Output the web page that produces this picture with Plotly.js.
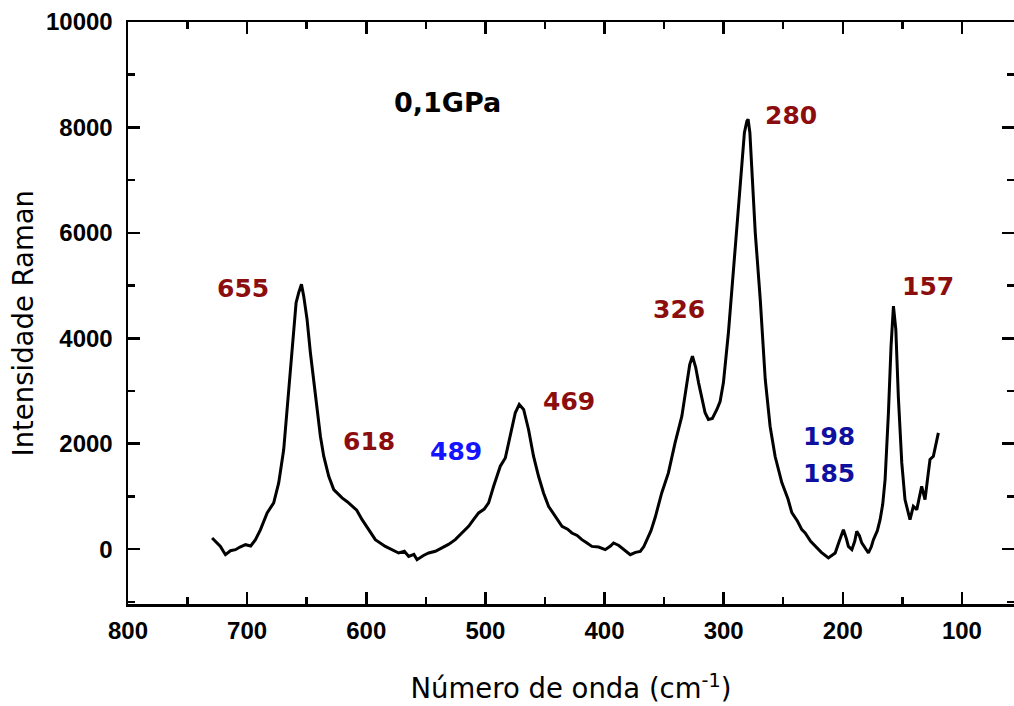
<!DOCTYPE html>
<html>
<head>
<meta charset="utf-8">
<script src="https://cdn.plot.ly/plotly-3.0.1.min.js"></script>
<style>html,body{margin:0;padding:0;background:#fff;}#chart{width:1014px;height:706px;}</style>
</head>
<body>
<div id="chart"></div>
<script>
// Raman spectrum at 0,1 GPa
const wavenumber = [
 729.4, 726, 722.4, 720, 718.2, 714, 709.8, 706, 701.4, 697, 693, 688.8, 683.2, 677.7, 673.5,
 669.3, 666.5, 663.7, 660.9, 658.9, 656.7, 654.4, 652.5, 649.7, 646.9, 642.7, 638.5, 635.7,
 631.5, 627.3, 620.3, 616, 612, 608, 603.5, 598, 592.4, 584, 578, 572.8, 568, 564.4, 560,
 557.4, 552, 547.6, 542, 536.4, 531, 525.3, 520, 514.1, 510, 505.7, 501, 497.3, 493.1, 487.5,
 483.3, 479.1, 474.9, 471.6, 467.9, 463.8, 459.6, 455.4, 451.2, 447, 441.4, 435.7, 431, 427.4,
 423, 419, 415, 410.6, 405, 399.4, 395, 392.4, 388, 385.4, 382, 378.4, 374, 370, 367, 364.4,
 361, 357.5, 352, 346.4, 340.8, 335.1, 330.9, 328.5, 326.2, 323.5, 321, 318.3, 315.6, 312.8,
 309.5, 305.7, 303, 300.2, 296, 290.4, 286.2, 282.6, 280.5, 279.5, 278, 276.3, 273.5, 269.3,
 265.1, 261, 256.8, 251.2, 246, 242.8, 238, 234.4, 231.6, 227, 223.2, 218, 212.1, 209, 206.4,
 203, 199.5, 197, 195.3, 192.4, 190, 188.3, 186, 184.1, 181, 178.5, 176, 174.3, 171, 168.7,
 166.5, 164.5, 161.7, 159.5, 157.5, 155.5, 153.4, 150.5, 147.8, 145, 143.6, 140.8, 137.9,
 133.8, 131, 128.5, 126.8, 124, 121.5, 119.8
];
const intensity = [
 213, 130, 53, -40, -104, -30, -10, 40, 85, 60, 180, 370, 688, 877, 1257,
 1890, 2650, 3410, 4042, 4676, 4866, 5024, 4800, 4359, 3726, 2902, 2143, 1763,
 1383, 1130, 972, 900, 813, 740, 560, 370, 180, 53, -20, -72, -40, -137, -100,
 -199, -120, -72, -40, 23, 90, 180, 300, 433, 560, 688, 760, 877, 1193, 1573,
 1730, 2143, 2587, 2745, 2650, 2270, 1763, 1383, 1067, 813, 623, 433, 380, 307,
 260, 180, 120, 53, 40, -9, 60, 118, 70, 23, -30, -104, -60, -42, 50, 180,
 350, 600, 1067, 1446, 2016, 2523, 3160, 3500, 3662, 3450, 3150, 2840, 2587, 2460,
 2480, 2650, 2800, 3160, 4110, 5689, 6952, 7900, 8120, 8157, 7900, 7243, 6008, 4740,
 3219, 2327, 1757, 1263, 950, 693, 530, 370, 307, 150, 53, -60, -167, -120, -72,
 150, 370, 200, 53, -9, 150, 338, 250, 118, 20, -72, 50, 180, 350, 560,
 850, 1320, 2587, 3852, 4612, 4169, 2902, 1637, 940, 700, 560, 813, 750,
 1193, 940, 1400, 1700, 1763, 2000, 2207
];

// Axis ticks
const xTickVals = [800, 700, 600, 500, 400, 300, 200, 100];
const yTickVals = [0, 2000, 4000, 6000, 8000, 10000];
const yTickText = ["0", "2000", "4000", "6000", "8000", "10000"];

// Peak labels
const labelText = ["655", "618", "489", "469", "326", "280", "198", "185", "157"];
const labelX    = [703.4, 597.4, 524.6, 430.2, 337.9, 243.1, 211.3, 211.3, 128.9];
const labelY    = [4948, 2048, 1858, 2792, 4549, 8220, 2142, 1434, 4976];
const labelKind = ["red", "red", "blue", "red", "red", "red", "navy", "navy", "red"];
const kindColor = {red: "#8b0d0d", blue: "#1414ff", navy: "#10109e"};

const pressureText = "0,1GPa";
const pressureX = 532, pressureY = 8480;

const xTitle = "Número de onda (cm<sup>-1</sup>)";
const yTitle = "Intensidade Raman";

const titleFont = {family: "DejaVu Sans", size: 27.5, color: "#000"};

const annotations = labelText.map((t, i) => ({
  x: labelX[i], y: labelY[i], xref: "x", yref: "y", text: t, showarrow: false,
  xanchor: "center", yanchor: "middle",
  font: {family: "DejaVu Sans", size: 25, weight: "bold", color: kindColor[labelKind[i]]}
}));
annotations.push({
  x: pressureX, y: pressureY, xref: "x", yref: "y", text: pressureText, showarrow: false,
  xanchor: "center", yanchor: "middle",
  font: {family: "DejaVu Sans", size: 27, weight: "bold", color: "#000"}
});
// y-axis title, placed as a rotated annotation left of the tick labels
annotations.push({
  x: 0, y: 0.482, xref: "paper", yref: "paper", xshift: -105, text: yTitle,
  textangle: -90, showarrow: false, xanchor: "center", yanchor: "middle", font: titleFont
});

const tickFont = {family: "Liberation Sans, Arial", size: 24, weight: "bold", color: "#000"};

const layout = {
  width: 1014, height: 706,
  margin: {l: 128, r: 0, t: 22, b: 102, pad: 0},
  paper_bgcolor: "#fff", plot_bgcolor: "#fff",
  showlegend: false,
  xaxis: {
    range: [800, 56.3], tickvals: xTickVals,
    ticks: "inside", ticklen: 12, tickwidth: 2.5, tickcolor: "#000",
    minor: {dtick: 50, tick0: 0, ticks: "inside", ticklen: 7, tickwidth: 2.5, tickcolor: "#000", showgrid: false},
    showline: true, linewidth: 2.5, linecolor: "#000", mirror: "allticks",
    showgrid: false, zeroline: false, tickfont: tickFont, ticklabelstandoff: 4,
    title: {text: xTitle, font: titleFont, standoff: 36}
  },
  yaxis: {
    range: [-1040, 10000], tickvals: yTickVals, ticktext: yTickText,
    ticks: "inside", ticklen: 12, tickwidth: 2.5, tickcolor: "#000",
    minor: {dtick: 1000, tick0: 0, ticks: "inside", ticklen: 7, tickwidth: 2.5, tickcolor: "#000", showgrid: false},
    showline: true, linewidth: 2.5, linecolor: "#000", mirror: "allticks",
    showgrid: false, zeroline: false, tickfont: tickFont, ticklabelstandoff: 8
  },
  annotations: annotations
};

Plotly.newPlot("chart", [{
  x: wavenumber, y: intensity, type: "scatter", mode: "lines",
  line: {color: "#000", width: 3}, hoverinfo: "skip"
}], layout, {staticPlot: true, displayModeBar: false});
</script>
</body>
</html>
